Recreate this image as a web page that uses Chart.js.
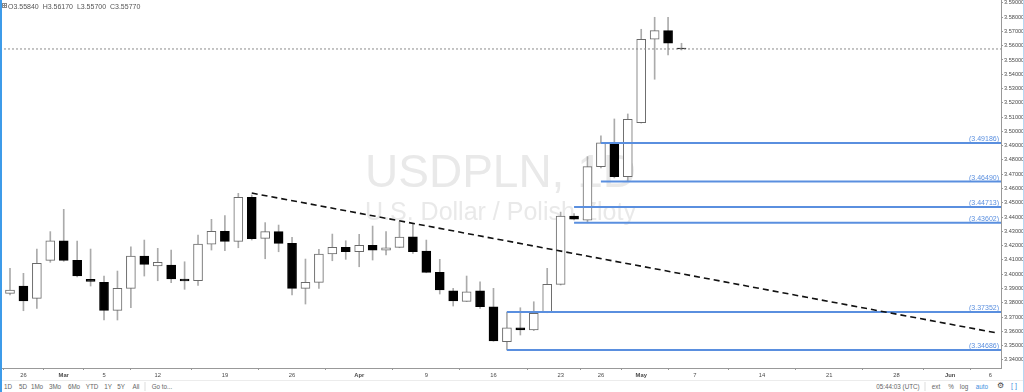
<!DOCTYPE html>
<html lang="en">
<head>
<meta charset="UTF-8">
<title>USDPLN, 1D</title>
<script src="https://cdn.jsdelivr.net/npm/chart.js"></script>
<style>
    body { margin: 0; width: 1024px; height: 392px; overflow: hidden; background: #fff; position: relative;
           font-family: "Liberation Sans", Arial, sans-serif; }
    #wrap { position: absolute; left: 0; top: 0; width: 1024px; height: 380px; }
    #bar { position: absolute; left: 0; top: 380px; width: 1024px; height: 12px; border-top: 1px solid #ececec;
           font-size: 6.3px; color: #666; }
    #bar span { position: absolute; top: 2px; transform: translateX(-50%); white-space: nowrap; }
    #bar .sep { top: 1px; width: 1px; height: 9px; background: #ddd; }
    .edge { position: absolute; top: 0; height: 392px; }
</style>
</head>
<body>
    <div id="wrap"><canvas id="chart" width="1024" height="380"></canvas></div>
    <div id="bar">
        <span style="left:8px">1D</span>
        <span style="left:23px">5D</span>
        <span style="left:37px">1Mo</span>
        <span style="left:55px">3Mo</span>
        <span style="left:74px">6Mo</span>
        <span style="left:92px">YTD</span>
        <span style="left:108px">1Y</span>
        <span style="left:121px">5Y</span>
        <span style="left:136px">All</span>
        <span class="sep" style="left:145px"></span>
        <span style="left:162px">Go to...</span>
        <span style="left:898px">05:44:03 (UTC)</span>
        <span class="sep" style="left:925px"></span>
        <span style="left:936px">ext</span>
        <span style="left:951px">%</span>
        <span style="left:964px">log</span>
        <span style="left:982px;color:#3d8fe0">auto</span>
        <span style="left:1000px;color:#444;font-size:8px;top:0">⚙</span>
        <span style="left:1014px;color:#3d8fe0;font-size:7px;top:1px">[ ]</span>
    </div>
    <div class="edge" style="left:0;width:2px;background:#3d9be9"></div>
    <div class="edge" style="left:1023px;width:1px;background:#b5d7f3"></div>
<script>
    // Daily candles, USDPLN
    const opens  = [3.3866, 3.3917, 3.3831, 3.4097, 3.4234, 3.4097, 3.3964, 3.3943, 3.3747, 3.3901,
                    3.4127, 3.4057, 3.4064, 3.3966, 3.3954, 3.4211, 3.4300, 3.4230, 3.4538, 3.4251,
                    3.4298, 3.4216, 3.3901, 3.3943, 3.4141, 3.4188, 3.4157, 3.4202, 3.4169, 3.4188,
                    3.4262, 3.4162, 3.4013, 3.3884, 3.3810, 3.3884, 3.3772, 3.3527, 3.3625, 3.3609,
                    3.3733, 3.3929, 3.4407, 3.4379, 3.4753, 3.4912, 3.4683, 3.5061, 3.5645, 3.5705,
                    3.5584];
    const highs  = [3.4041, 3.4006, 3.4176, 3.4298, 3.4454, 3.4232, 3.4176, 3.3987, 3.4022, 3.4192,
                    3.4239, 3.4181, 3.4169, 3.4087, 3.4274, 3.4384, 3.4410, 3.4566, 3.4555, 3.4361,
                    3.4344, 3.4258, 3.4106, 3.4174, 3.4281, 3.4234, 3.4279, 3.4337, 3.4298, 3.4368,
                    3.4351, 3.4239, 3.4104, 3.3901, 3.3987, 3.3947, 3.3901, 3.3735, 3.3765, 3.3807,
                    3.4041, 3.4435, 3.4425, 3.4823, 3.4968, 3.5087, 3.5122, 3.5715, 3.5799, 3.5799,
                    3.5617];
    const lows   = [3.3854, 3.3744, 3.3761, 3.4083, 3.4090, 3.3980, 3.3917, 3.3679, 3.3679, 3.3765,
                    3.3987, 3.3954, 3.3940, 3.3894, 3.3922, 3.4169, 3.4164, 3.4185, 3.4239, 3.4108,
                    3.4157, 3.3854, 3.3791, 3.3901, 3.4094, 3.4104, 3.4052, 3.4099, 3.4134, 3.4185,
                    3.4146, 3.4010, 3.3861, 3.3777, 3.3808, 3.3761, 3.3530, 3.3469, 3.3574, 3.3605,
                    3.3730, 3.3924, 3.4380, 3.4360, 3.4744, 3.4674, 3.4649, 3.5058, 3.5365, 3.5535,
                    3.5570];
    const closes = [3.3889, 3.3812, 3.4076, 3.4234, 3.4097, 3.3987, 3.3950, 3.3747, 3.3901, 3.4127,
                    3.4069, 3.4083, 3.3966, 3.3952, 3.4211, 3.4300, 3.4230, 3.4538, 3.4248, 3.4298,
                    3.4216, 3.3901, 3.3943, 3.4141, 3.4188, 3.4157, 3.4202, 3.4169, 3.4185, 3.4260,
                    3.4157, 3.4013, 3.3889, 3.3812, 3.3877, 3.3772, 3.3532, 3.3625, 3.3609, 3.3726,
                    3.3929, 3.4407, 3.4386, 3.4753, 3.4919, 3.4683, 3.5085, 3.5645, 3.5705, 3.5617,
                    3.5577];

    // date labels on the time axis (bar index -> text)
    const xTickIdx  = [1, 4, 7, 11, 16, 21, 26, 31, 36, 41, 44, 47, 51, 56, 61, 66, 70, 73];
    const xTickText = ['26', 'Mar', '5', '12', '19', '26', 'Apr', '9', '16', '23', '26', 'May', '7', '14', '21', '28', 'Jun', '6'];
    const months = ['Mar', 'Apr', 'May', 'Jun'];

    // horizontal levels and where they start
    const levels     = [3.49186, 3.46490, 3.44713, 3.43602, 3.37352, 3.34686];
    const levelStart = [44, 44, 42, 42, 37, 37];

    // falling trend line
    const trendIdx  = [18, 73.5];
    const trendVals = [3.4568, 3.3588];

    const lastPrice = 3.5577;
    const header = 'O3.55840  H3.56170  L3.55700  C3.55770';

    const xMin = -0.745, xMax = 73.79;
    const yMin = 3.3343, yMax = 3.5920;

    const idx = opens.map((o, i) => i);
    const up = idx.map(i => closes[i] >= opens[i]);
    const font = '"Liberation Sans", Arial, sans-serif';
    const blue = '#5a8fdf';

    const datasets = [
        {
            type: 'bar', label: 'body', order: 1,
            data: idx.map(i => ({ x: i, y: [opens[i], closes[i]] })),
            backgroundColor: up.map(u => u ? '#ffffff' : '#000000'),
            borderColor: up.map(u => u ? '#6a6a6a' : '#000000'),
            borderWidth: 1, borderSkipped: false, barThickness: 9, grouped: false
        },
        {
            type: 'bar', label: 'wick', order: 2,
            data: idx.map(i => ({ x: i, y: [lows[i], highs[i]] })),
            backgroundColor: '#ababab', borderWidth: 0, barThickness: 1, grouped: false
        },
        {
            type: 'line', label: 'trend', order: 0,
            data: trendIdx.map((x, i) => ({ x: x, y: trendVals[i] })),
            borderColor: '#111', borderWidth: 1.6, borderDash: [6, 4], pointRadius: 0, fill: false
        },
        {
            type: 'line', label: 'last', order: 0,
            data: [{ x: xMin, y: lastPrice }, { x: xMax, y: lastPrice }],
            borderColor: '#8a8a8a', borderWidth: 1, borderDash: [2, 2], pointRadius: 0, fill: false
        }
    ];
    levels.forEach((lv, k) => {
        datasets.push({
            type: 'line', label: 'level' + k, order: 0,
            data: [{ x: levelStart[k], y: lv }, { x: xMax, y: lv }],
            borderColor: blue, borderWidth: 2, pointRadius: 0, fill: false
        });
    });

    // watermark, header and level labels
    const decor = {
        id: 'decor',
        beforeDatasetsDraw(chart) {
            const { ctx, chartArea: a } = chart;
            const cx = (a.left + a.right) / 2;
            ctx.save();
            ctx.fillStyle = '#e9e9e9';
            ctx.textAlign = 'center';
            ctx.textBaseline = 'middle';
            ctx.font = '46px ' + font;
            ctx.fillText('USDPLN, 1D', cx, 174);
            ctx.font = '25px ' + font;
            ctx.fillText('U.S. Dollar / Polish Zloty', cx, 213);
            ctx.restore();
        },
        afterDatasetsDraw(chart) {
            const { ctx, chartArea: a, scales } = chart;
            ctx.save();
            ctx.font = '7px ' + font;
            ctx.fillStyle = blue;
            ctx.textAlign = 'right';
            ctx.textBaseline = 'alphabetic';
            levels.forEach(lv => {
                ctx.fillText('(' + lv.toFixed(5) + ')', a.right - 2, scales.y.getPixelForValue(lv) - 2);
            });
            ctx.fillStyle = '#555';
            ctx.textAlign = 'left';
            ctx.font = '7px ' + font;
            ctx.fillText(header, 8, 9);
            ctx.strokeStyle = '#888';
            ctx.lineWidth = 1;
            ctx.strokeRect(2.5, 3.5, 4, 4);
            ctx.beginPath();
            ctx.moveTo(4.5, 3.5); ctx.lineTo(4.5, 7.5);
            ctx.moveTo(2.5, 5.5); ctx.lineTo(6.5, 5.5);
            ctx.stroke();
            ctx.restore();
        }
    };

    new Chart(document.getElementById('chart'), {
        type: 'bar',
        data: { datasets: datasets },
        options: {
            responsive: false,
            animation: false,
            devicePixelRatio: 1,
            layout: { padding: 0 },
            plugins: { legend: { display: false }, tooltip: { enabled: false } },
            scales: {
                x: {
                    type: 'linear', min: xMin, max: xMax, offset: false,
                    afterBuildTicks: s => { s.ticks = xTickIdx.map(v => ({ value: v })); },
                    afterFit: s => { s.height = 12; s.paddingLeft = 0; s.paddingRight = 0; },
                    grid: { drawOnChartArea: false, tickLength: 2, color: '#999' },
                    border: { color: '#999' },
                    ticks: {
                        autoSkip: false, maxRotation: 0, padding: 2, color: '#4a4a4a',
                        font: c => ({ family: font, size: 5.8,
                            weight: (c.tick && months.includes(c.tick.label)) ? 'bold' : 'normal' }),
                        callback: v => xTickText[xTickIdx.indexOf(v)]
                    }
                },
                y: {
                    position: 'right', min: yMin, max: yMax,
                    afterFit: s => { s.width = 23; s.paddingTop = 0; s.paddingBottom = 0; },
                    grid: { drawOnChartArea: false, tickLength: 2, color: '#999' },
                    border: { color: '#999' },
                    ticks: {
                        stepSize: 0.01, includeBounds: false, autoSkip: false, padding: 1,
                        color: '#4a4a4a', font: { family: font, size: 5.6 },
                        callback: v => v.toFixed(5)
                    }
                }
            }
        },
        plugins: [decor]
    });
</script>
</body>
</html>
